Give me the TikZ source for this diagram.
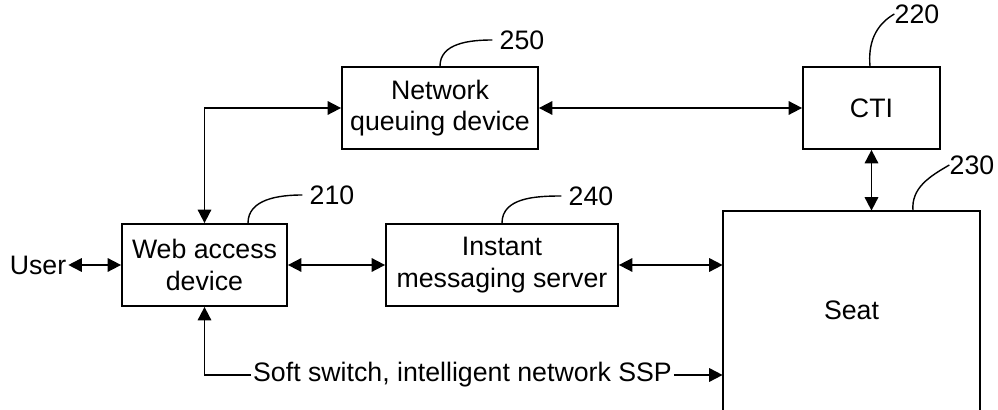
\documentclass[tikz,border=0pt]{standalone}
\usepackage{fontspec}
\setmainfont{Liberation Sans}
\usetikzlibrary{positioning, arrows.meta}

\begin{document}
\begin{tikzpicture}[font=\fontsize{15.2}{17.8}\selectfont,
        caja/.style={draw, line width=1pt, align=center, inner sep=0pt, minimum height=1.64cm},
        texto/.style={inner sep=1pt},
        ref/.style={inner sep=4pt},
        flecha/.style={line width=1pt, {Triangle[length=2.7mm,width=2.7mm]}-{Triangle[length=2.7mm,width=2.7mm]}},
        fin/.style={line width=1pt, -{Triangle[length=2.7mm,width=2.7mm]}},
        curva/.style={line width=0.8pt}]
        % Marco
        \useasboundingbox (0,0) rectangle (19.96,8.2);
        % Cajas
        \node[caja, minimum width=3.3cm] (web) at (4.09,2.9) {Web access\\device};
        \node[caja, minimum width=4.64cm] (im) at (10.04,2.9) {Instant\\messaging server};
        \node[caja, minimum width=3.92cm] (cola) at (8.8,6.04) {Network\\queuing device};
        \node[caja, minimum width=2.74cm] (cti) at (17.43,6.04) {CTI};
        % Puesto (abierto por abajo)
        \node[minimum width=5.14cm, minimum height=3.98cm, inner sep=0pt] (seat) at (17.03,1.99) {Seat};
        \draw[line width=1pt] (seat.south west) -- (seat.north west) -- (seat.north east) -- (seat.south east);
        % Textos sueltos
        \node[texto] (user) at (0.76,2.9) {User};
        \node[texto] (ssp) at (9.25,0.7) {Soft switch, intelligent network SSP};
        % Conexiones
        \draw[flecha] (user.east) -- (web.west);
        \draw[flecha] (web.east) -- (im.west);
        \draw[flecha] (im.east) -- (im.east -| seat.west);
        \draw[flecha] (cola.west) -| (web.north);
        \draw[flecha] (cola.east) -- (cti.west);
        \draw[flecha] (cti.south) -- (cti.south |- seat.north);
        \draw[fin] (ssp.west) -| (web.south);
        \draw[fin] (ssp.east) -- (ssp.east -| seat.west);
        % Referencias
        \node[ref] (n210) at (6.64,4.3) {210};
        \draw[curva] ([xshift=0.87cm]web.north) to[out=90,in=180] (n210.west);
        \node[ref] (n250) at (10.44,7.4) {250};
        \draw[curva] (cola.north) to[out=90,in=180] (n250.west);
        \node[ref] (n240) at (11.82,4.28) {240};
        \draw[curva] (im.north) to[out=90,in=180] (n240.west);
        \node[inner sep=0pt] (n220) at (18.34,7.92) {220};
        \draw[curva] ([xshift=-0.03cm]cti.north) to[out=95,in=210] (n220.west);
        \node[inner sep=0pt] (n230) at (19.44,4.9) {230};
        \draw[curva] ([xshift=1.23cm]seat.north) to[out=95,in=210] (n230.west);
    \end{tikzpicture}
\end{document}
